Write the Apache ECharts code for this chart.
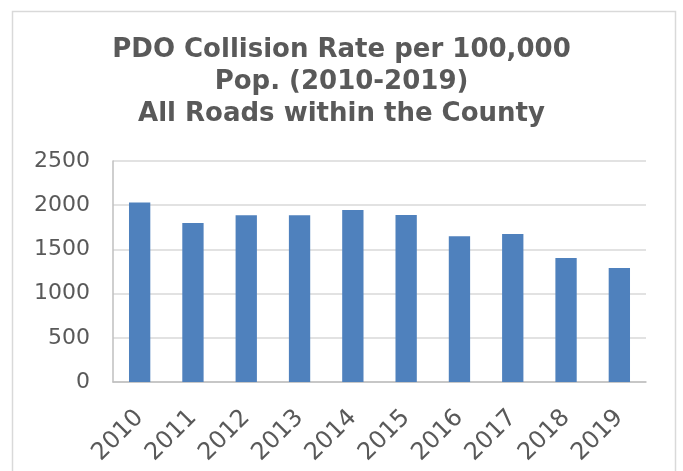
<!DOCTYPE html>
<html>
<head>
    <meta charset="utf-8">
    <title>PDO Collision Rate</title>
    <style>
        body {
            margin: 0;
        }

        #ec {
            width: 683px;
            height: 471px;
        }
    </style>
</head>
<body>
    <div id="ec"></div>
    <script src="https://cdn.jsdelivr.net/npm/echarts@6/dist/echarts.min.js"></script>
    <script>
        var years = ['2010', '2011', '2012', '2013', '2014', '2015', '2016', '2017', '2018', '2019'];
        var rates = [2030, 1800, 1885, 1885, 1946, 1890, 1648, 1675, 1402, 1290];
        var titleLines = ['PDO Collision Rate per 100,000', 'Pop. (2010-2019)', 'All Roads within the County'];

        (function() {
            'use strict';

            var chart = echarts.init(document.getElementById('ec'));

            chart.setOption({
                animation: false,
                backgroundColor: '#fff',
                title: {
                    text: titleLines.join('\n'),
                    left: 'center',
                    top: 29,
                    textStyle: {
                        fontFamily: 'DejaVu Sans',
                        fontWeight: 'bold',
                        fontSize: 26,
                        lineHeight: 32,
                        color: '#595959'
                    }
                },
                graphic: [{
                    type: 'rect',
                    shape: { x: 12.5, y: 11.5, width: 663, height: 470 },
                    style: { fill: 'none', stroke: '#d9d9d9', lineWidth: 1.5 }
                }],
                grid: {
                    left: 113,
                    right: 37,
                    top: 161,
                    bottom: 89
                },
                xAxis: {
                    type: 'category',
                    data: years,
                    axisTick: { show: false },
                    axisLine: { lineStyle: { color: '#bfbfbf', width: 1.5 } },
                    axisLabel: {
                        rotate: 45,
                        fontFamily: 'DejaVu Sans',
                        fontSize: 24,
                        color: '#595959',
                        margin: 32
                    }
                },
                yAxis: {
                    type: 'value',
                    min: 0,
                    max: 2500,
                    interval: 500,
                    axisLine: { show: true, lineStyle: { color: '#bfbfbf', width: 1.5 } },
                    axisTick: { show: false },
                    splitLine: { lineStyle: { color: '#d9d9d9', width: 1.5 } },
                    axisLabel: {
                        fontFamily: 'DejaVu Sans',
                        fontSize: 22,
                        color: '#595959',
                        margin: 23,
                        formatter: function(v) { return String(v); }
                    }
                },
                series: [{
                    type: 'bar',
                    data: rates,
                    barWidth: '40%',
                    itemStyle: {
                        color: '#4f81bd'
                    }
                }]
            });
        }());
    </script>
</body>
</html>
